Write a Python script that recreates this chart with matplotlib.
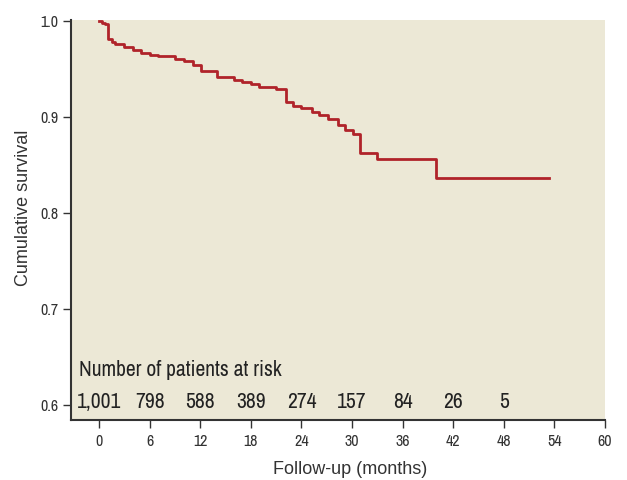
import matplotlib
matplotlib.use("Agg")
import matplotlib.pyplot as plt

# survival curve (Kaplan-Meier steps)
months = [0, 0.3, 0.7, 1.1, 1.5, 1.9, 3.0, 4.0, 5.0, 6.0, 7.0, 9.0, 10.1, 11.1,
          12.1, 14.0, 16.0, 17.0, 18.0, 19.0, 21.0, 22.2, 23.0, 24.0, 25.2,
          26.1, 27.2, 28.3, 29.2, 30.1, 30.9, 33.0, 40.0, 53.3]
survival = [1.0, 0.9976, 0.997, 0.981, 0.978, 0.976, 0.973, 0.970, 0.967,
            0.965, 0.9635, 0.961, 0.9587, 0.954, 0.948, 0.9417, 0.939, 0.9365,
            0.934, 0.9316, 0.9295, 0.916, 0.912, 0.909, 0.905, 0.902, 0.898,
            0.892, 0.887, 0.882, 0.863, 0.856, 0.8365, 0.8365]

risk_months = [0, 6, 12, 18, 24, 30, 36, 42, 48]
at_risk = ["1,001", "798", "588", "389", "274", "157", "84", "26", "5"]

x_ticks = list(range(0, 61, 6))
y_ticks = [0.6, 0.7, 0.8, 0.9, 1.0]

narrow = ["Archivo Narrow", "DejaVu Sans"]
plain = ["Liberation Sans", "DejaVu Sans"]

bg = "#ECE8D6"
red = "#B0232A"
ink = "#333333"

fig = plt.figure(figsize=(6.27, 4.8), dpi=100)
ax = fig.add_axes([0.1132, 0.125, 0.8518, 0.833])
ax.set_facecolor(bg)

ax.step(months, survival, where="post", color=red, lw=2.0)

ax.set_xlim(-3.32, 60)
ax.set_ylim(0.5844, 1.001)
ax.spines["top"].set_visible(False)
ax.spines["right"].set_visible(False)
for s in ("left", "bottom"):
    ax.spines[s].set_linewidth(1.5)
    ax.spines[s].set_color(ink)

ax.set_xticks(x_ticks)
ax.set_xticklabels([str(t) for t in x_ticks], family=narrow, fontsize=11.5)
ax.set_yticks(y_ticks)
ax.set_yticklabels([f"{t:.1f}" for t in y_ticks], family=narrow, fontsize=11.5)
ax.tick_params(direction="out", length=6, width=1, color=ink, labelcolor=ink)
ax.tick_params(axis="x", pad=4)
ax.tick_params(axis="y", pad=3)

ax.set_xlabel("Follow-up (months)", family=plain, fontsize=13, color=ink)
ax.set_ylabel("Cumulative survival", family=plain, fontsize=13, color=ink)
ax.xaxis.set_label_coords(0.522, -0.103)
ax.yaxis.set_label_coords(-0.073, 0.53)

ax.text(-2.4, 0.637, "Number of patients at risk", family=narrow, fontsize=15.5,
        ha="left", va="center", color="#222222")
for m, n in zip(risk_months, at_risk):
    ax.text(m, 0.603, n, family=narrow, fontsize=15.5, ha="center", va="center",
            color="#222222")

fig.savefig("out.png", dpi=100)
